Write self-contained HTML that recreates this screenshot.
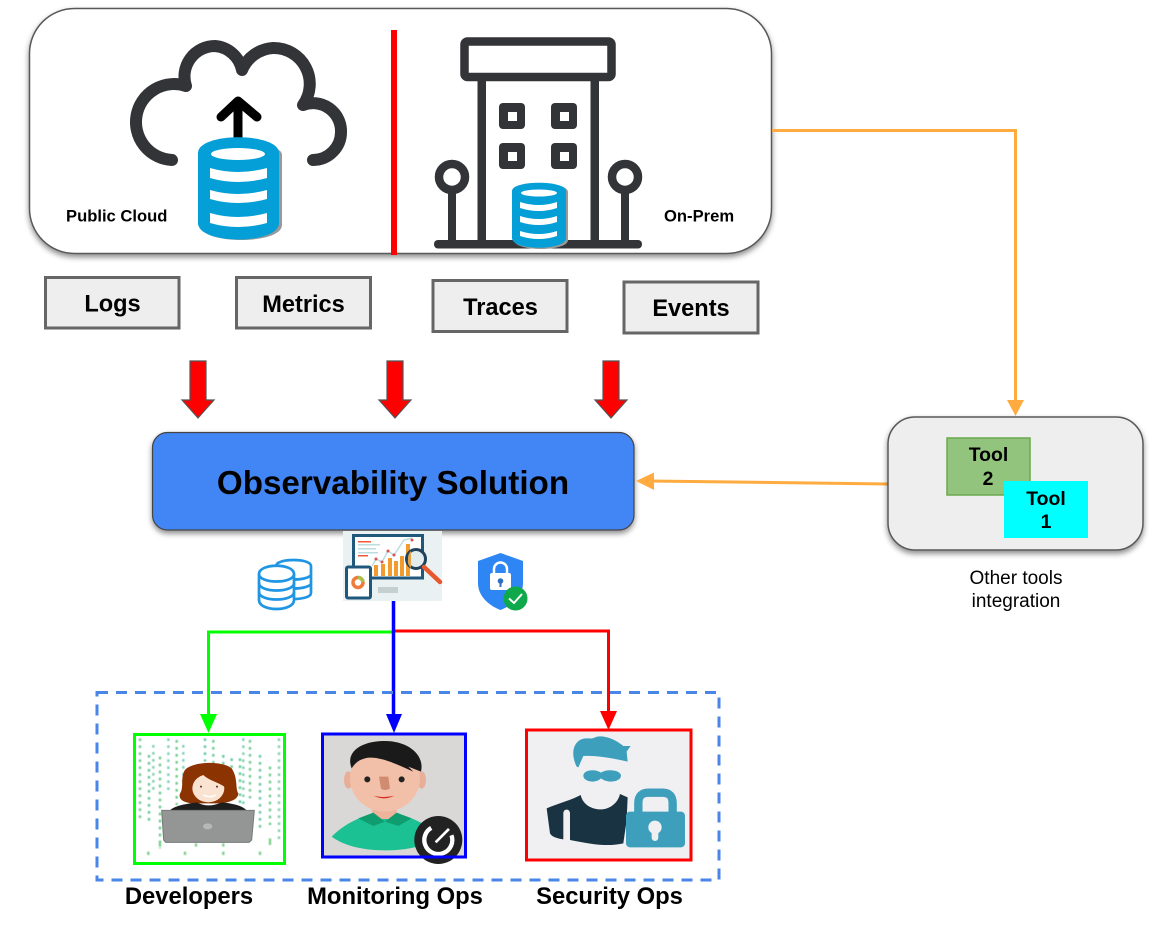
<!DOCTYPE html>
<html><head><meta charset="utf-8"><style>
html,body{margin:0;padding:0;background:#fff;overflow:hidden}
svg{display:block}
text{font-family:"Liberation Sans",sans-serif;fill:#000}
.b{font-weight:bold}
</style></head><body>
<svg width="1150" height="926" viewBox="0 0 1150 926" xmlns="http://www.w3.org/2000/svg">
<defs>
<filter id="s" x="-10%" y="-10%" width="120%" height="125%"><feDropShadow dx="0" dy="3" stdDeviation="3" flood-color="#000" flood-opacity=".45"/></filter>
<filter id="bl" x="-5%" y="-5%" width="110%" height="110%"><feGaussianBlur stdDeviation="1.200"/></filter>
<g id="redarrow"><path d="M-8,0H8V39H16L0,57L-16,39H-8Z" fill="#f00" stroke="#555" stroke-width="1.2"/></g>
</defs>

<!-- top box -->
<rect x="29.500" y="8.500" width="742" height="245" rx="45" fill="#fff" stroke="#595959" stroke-width="1.500" filter="url(#s)"/>
<rect x="391" y="30" width="6" height="225" fill="#f00"/>

<!-- cloud -->
<path d="M172,160A38,38 0 1 1 186,86A30.500,30.500 0 0 1 215,46A30,30 0 0 1 242,70A36,36 0 0 1 273,48A36,36 0 0 1 303,105A28,28 0 0 1 341,132A28,28 0 0 1 313,160" fill="none" stroke="#333438" stroke-width="12" stroke-linecap="round" stroke-linejoin="round"/>
<path d="M238,143V102M221,117L238,101L257,117" fill="none" stroke="#000" stroke-width="9" stroke-linecap="round" stroke-linejoin="round"/>
<!-- main database -->
<g>
<path d="M200,155C200,139 282,139 282,155V225C282,245 200,245 200,225Z" fill="#999"/>
<path d="M198,153C198,132 279,132 279,153V223C279,245 198,245 198,223Z" fill="#049fd6"/>
<ellipse cx="238" cy="154" rx="27" ry="6" fill="#fff"/>
<path d="M210,168Q238,176 267,168V178Q238,186 210,178Z" fill="#fff"/>
<path d="M210,190Q238,198 267,190V199Q238,207 210,199Z" fill="#fff"/>
<path d="M210,213Q238,221 267,213V223Q238,231 210,223Z" fill="#fff"/>
</g>

<!-- building -->
<g fill="#333438">
<rect x="464.500" y="41.500" width="147" height="35.500" rx="3" fill="#fff" stroke="#333438" stroke-width="8.500"/>
<rect x="477.500" y="80" width="8.500" height="162"/>
<rect x="590.500" y="80" width="8.500" height="162"/>
<rect x="499" y="103" width="26" height="26" rx="4"/><rect x="551" y="103" width="26" height="26" rx="4"/>
<rect x="499" y="143" width="26" height="26" rx="4"/><rect x="551" y="143" width="26" height="26" rx="4"/>
<rect x="434" y="240" width="208" height="8.500" rx="4"/>
<rect x="448" y="190" width="8" height="52"/><rect x="621" y="190" width="8" height="52"/>
</g>
<g fill="#fff"><rect x="508" y="112" width="9" height="9"/><rect x="560" y="112" width="9" height="9"/><rect x="508" y="152" width="9" height="9"/><rect x="560" y="152" width="9" height="9"/></g>
<circle cx="452" cy="177" r="13" fill="#fff" stroke="#333438" stroke-width="8.500"/>
<circle cx="625" cy="177" r="13" fill="#fff" stroke="#333438" stroke-width="8.500"/>
<!-- small database -->
<path d="M514,192C514,181 568,181 568,192V240C568,252 514,252 514,240Z" fill="#999"/>
<path d="M512,191C512,180 566,180 566,191V238C566,251 512,251 512,238Z" fill="#049fd6"/>
<ellipse cx="539" cy="193" rx="18" ry="3.500" fill="#fff"/>
<path d="M520,202Q539,208 557,202V208Q539,214 520,208Z" fill="#fff"/>
<path d="M520,216Q539,222 557,216V222Q539,228 520,222Z" fill="#fff"/>
<path d="M520,231Q539,237 557,231V236Q539,242 520,236Z" fill="#fff"/>

<text class="b" x="66" y="221.500" font-size="16.600">Public Cloud</text>
<text class="b" x="664" y="221.500" font-size="16.600">On-Prem</text>

<!-- signal boxes -->
<g fill="#eee" stroke="#666" stroke-width="3">
<rect x="45.500" y="277.500" width="133.500" height="50.500"/>
<rect x="236.500" y="277.500" width="134" height="50.500"/>
<rect x="433" y="280.500" width="134" height="51"/>
<rect x="624" y="282" width="134" height="51"/>
</g>
<g font-size="23.600" text-anchor="middle" style="font-weight:bold">
<text x="112.500" y="311.500">Logs</text>
<text x="303.500" y="312">Metrics</text>
<text x="500.500" y="315">Traces</text>
<text x="691" y="316">Events</text>
</g>

<use href="#redarrow" x="198" y="361"/>
<use href="#redarrow" x="395" y="361"/>
<use href="#redarrow" x="611" y="361"/>

<!-- Observability -->
<rect x="152.500" y="432.500" width="481.500" height="97.500" rx="15" fill="#4285f4" stroke="#444" stroke-width="1.200" filter="url(#s)"/>
<text class="b" x="393" y="494" font-size="33.200" text-anchor="middle">Observability Solution</text>

<!-- orange connectors -->
<path d="M772,130.500H1015.500V402" fill="none" stroke="#ffab40" stroke-width="3"/>
<path d="M1007,400H1024L1015.500,416Z" fill="#ffab40"/>
<path d="M888,484L650,481" fill="none" stroke="#ffab40" stroke-width="3"/>
<path d="M654,472.500L654,490L636,481Z" fill="#ffab40"/>

<!-- tools -->
<rect x="888" y="417" width="255" height="133" rx="27" fill="#eee" stroke="#595959" stroke-width="1.500" filter="url(#s)"/>
<rect x="947" y="438" width="83" height="57" fill="#93c47d" stroke="#6aa84f" stroke-width="1.500"/>
<rect x="1004" y="481" width="84" height="57" fill="#0ff"/>
<g font-size="19.400" text-anchor="middle" style="font-weight:bold">
<text x="988.500" y="461">Tool</text><text x="988" y="485">2</text>
<text x="1046" y="505">Tool</text><text x="1046" y="528">1</text>
</g>
<text x="1016" y="584" font-size="19" text-anchor="middle">Other tools</text>
<text x="1016" y="607" font-size="19" text-anchor="middle">integration</text>

<!-- db stack icon -->
<g fill="#fff" stroke="#1f96e4" stroke-width="2.700">
<path d="M276,566C276,558 311,558 311,566V593C311,601 276,601 276,593Z"/>
<path d="M276,575C280,581 307,581 311,575M276,584C280,590 307,590 311,584" fill="none"/>
<path d="M259,574C259,563 294,563 294,574V600C294,612 259,612 259,600Z"/>
<path d="M259,574C259,584 294,584 294,574M259,583C259,593 294,593 294,583M259,592C259,602 294,602 294,592" fill="none"/>
</g>

<!-- analytics image -->
<rect x="343" y="531" width="99" height="70" fill="#eaf1f3"/>
<rect x="353.500" y="535.500" width="69" height="42.500" fill="#fff" stroke="#20587c" stroke-width="3"/>
<rect x="378" y="587" width="20" height="6" fill="#c4d0d0"/>
<rect x="358" y="541" width="13" height="1.500" fill="#ef5a3c"/>
<g fill="#bcdde0"><rect x="358" y="544" width="22" height="1.500"/><rect x="358" y="548" width="18" height="1.500"/><rect x="358" y="552" width="20" height="1.500"/></g>
<rect x="358" y="555" width="10" height="1.500" fill="#ef5a3c"/>
<g fill="#f29b2e"><rect x="374" y="565" width="4" height="11"/><rect x="381" y="564" width="4" height="12"/><rect x="388" y="558" width="4" height="18"/><rect x="394" y="561" width="4" height="15"/><rect x="400" y="556" width="4" height="20"/><rect x="406" y="544" width="4" height="32"/></g>
<path d="M372,566L376,559L382,562L388,551L394,555L404,540L412,538" fill="none" stroke="#bcdde0" stroke-width="1.500"/>
<g fill="#d9534f"><circle cx="376" cy="559" r="1.500"/><circle cx="382" cy="562" r="1.500"/><circle cx="388" cy="551" r="1.500"/><circle cx="394" cy="555" r="1.500"/><circle cx="412" cy="540" r="1.500"/></g>
<circle cx="416" cy="559" r="9.500" fill="#e3eced" stroke="#20425c" stroke-width="3"/>
<path d="M411,551V568A9.500,9.500 0 0 1 408,559C408,555 409,553 411,551Z" fill="#e3a34a"/>
<path d="M424,567L440,582" stroke="#e8582c" stroke-width="4.500" stroke-linecap="round"/>
<rect x="346.500" y="567" width="24" height="31" rx="1.500" fill="#fff" stroke="#20587c" stroke-width="3"/>
<circle cx="358" cy="582.500" r="5" fill="none" stroke="#ee7b3a" stroke-width="3.500"/>
<path d="M358,577.500A5,5 0 0 1 363,582" fill="none" stroke="#a8c04a" stroke-width="3.500"/>

<!-- shield -->
<path d="M500.500,553L523,561V583C523,597 511,606 500.500,610C490,606 478,597 478,583V561Z" fill="#2e86f5"/>
<rect x="490" y="573" width="21" height="17" rx="2" fill="#fff"/>
<path d="M494,574V569A6.500,6.500 0 0 1 507,569V574" fill="none" stroke="#fff" stroke-width="2.500"/>
<circle cx="500.500" cy="581" r="2.800" fill="#2e6fc0"/><rect x="499.500" y="582" width="2" height="5" fill="#2e6fc0"/>
<circle cx="515.500" cy="598.500" r="12" fill="#0fa84a"/>
<path d="M509,598.500L514,603L522,594" fill="none" stroke="#fff" stroke-width="2"/>

<!-- distribution connectors -->
<path d="M393.500,632H208.500V716" fill="none" stroke="#0f0" stroke-width="3"/>
<path d="M393.500,631H608.500V714" fill="none" stroke="#f00" stroke-width="3"/>
<path d="M393.500,601V716" fill="none" stroke="#00f" stroke-width="3.500"/>
<path d="M200,714H217L208.500,733Z" fill="#0f0"/>
<path d="M386,714H402L394,733Z" fill="#00f"/>
<path d="M600,711H617L608.500,730Z" fill="#f00"/>

<!-- dashed group -->
<rect x="97" y="692.500" width="622" height="187.500" fill="none" stroke="#4a86e8" stroke-width="3" stroke-dasharray="11 8"/>

<!-- Developers -->
<rect x="134" y="734" width="150" height="129" fill="#fff"/>
<g transform="translate(125,725) scale(.3333)">
<g fill="none" stroke-width="7" stroke-dasharray="8 13" filter="url(#bl)">
<path d="M45,40V290M105,95V370M155,45V240M265,45V125M375,45V220M435,125V300" stroke="#6cc98a"/>
<path d="M85,60V205M130,40V200M175,60V200M355,40V240M462,40V350" stroke="#7ccfb0"/>
<path d="M72,90V300M240,40V110M295,90V130M320,100V135M405,90V320M345,100V240" stroke="#5fc69a"/>
<path d="M70,380V390M180,380V390M295,380V390M405,380V390M105,355V365M213,355V365M295,355V365M435,340V360" stroke="#7ccf8a" stroke-dasharray="none"/>
</g>
<path d="M180,135C200,110 290,105 320,130C340,160 330,190 340,205C340,225 310,232 290,235H200C170,232 160,220 165,205C178,190 165,155 180,135Z" fill="#8b3402"/>
<ellipse cx="250" cy="190" rx="48" ry="42" fill="#fbe3d2"/>
<path d="M200,180C212,158 225,150 235,150C250,165 275,170 298,185L295,135L210,135Z" fill="#8b3402"/>
<circle cx="228" cy="185" r="3" fill="#5a3020"/><circle cx="276" cy="185" r="3" fill="#5a3020"/>
<path d="M235,210Q255,220 272,210" fill="none" stroke="#fff" stroke-width="4"/>
<path d="M135,256C150,240 195,235 215,232Q250,250 290,232C320,235 350,240 365,256Z" fill="#1d1d1d"/>
<path d="M110,256H388L380,345L372,352H122L116,345Z" fill="#939695" stroke="#767a79" stroke-width="3"/>
<ellipse cx="248" cy="304" rx="14" ry="9" fill="#b5b8b8"/>
</g>
<rect x="134.500" y="734.500" width="150" height="129" fill="none" stroke="#0f0" stroke-width="3"/>

<!-- Monitoring -->
<rect x="323" y="734" width="142" height="122" fill="#d9d8d6"/>
<g transform="translate(125,725) scale(.3333)">
<ellipse cx="670" cy="165" rx="13" ry="26" fill="#e8ae98"/><ellipse cx="890" cy="165" rx="13" ry="26" fill="#e8ae98"/>
<path d="M620,335C650,305 690,280 745,265Q780,290 815,265C870,280 920,305 945,335C900,365 840,377 780,376C720,376 660,365 620,335Z" fill="#1cc193"/>
<rect x="742" y="230" width="73" height="52" rx="14" fill="#eeb39b"/>
<path d="M700,280L745,263L780,290L745,303ZM860,280L815,263L780,290L820,303Z" fill="#0f9d6f"/>
<ellipse cx="780" cy="160" rx="105" ry="100" fill="#f2bfa8"/>
<path d="M680,130C660,80 710,48 780,48C850,48 900,90 888,140L850,125L865,140C820,120 760,90 720,100C700,105 690,115 680,130Z" fill="#1a1a1a"/>
<circle cx="727" cy="163" r="9" fill="#222"/><circle cx="830" cy="163" r="9" fill="#222"/>
<path d="M762,155H790L795,190Q778,200 768,190Z" fill="#d08c70"/>
<path d="M745,212Q778,220 808,212Q778,228 745,212Z" fill="#d62a1f"/>
<circle cx="940" cy="345" r="72" fill="#222"/>
<circle cx="940" cy="345" r="42" fill="none" stroke="#fff" stroke-width="13" stroke-dasharray="190 74" transform="rotate(-20 940 345)"/>
<path d="M932,352L972,312" stroke="#fff" stroke-width="8"/>
</g>
<rect x="322.500" y="734" width="143" height="123" fill="none" stroke="#00f" stroke-width="3"/>

<!-- Security -->
<rect x="527" y="731" width="164" height="129" fill="#f0f0f3"/>
<g transform="translate(515,720) scale(.3333)">
<path d="M185,140C170,110 170,75 195,60C215,50 225,60 240,52C265,42 305,60 325,78L347,78L335,95L338,125C300,115 240,105 205,108L190,142Z" fill="#3d9fbc"/>
<path d="M205,167C205,150 240,145 258,158C275,145 318,150 318,167C318,185 280,192 258,175C240,192 205,185 205,167Z" fill="#3d9fbc"/>
<path d="M95,265C130,250 170,240 197,225C205,260 240,270 262,268C290,265 310,245 315,222L338,232L335,300L325,370C280,380 240,375 165,360V280C165,265 145,265 145,280V358C125,355 110,350 105,340Z" fill="#1a3342"/>
<path d="M370,280V250Q370,218 400,218H443Q473,218 473,250V280" fill="none" stroke="#3d9fbc" stroke-width="25"/>
<rect x="333" y="275" width="177" height="107" rx="12" fill="#3d9fbc"/>
<circle cx="420" cy="322" r="20" fill="#f0f0f3"/><rect x="410" y="325" width="20" height="38" rx="10" fill="#f0f0f3"/>
</g>
<rect x="526.500" y="730" width="164.500" height="130" fill="none" stroke="#f00" stroke-width="3"/>

<g font-size="23.800" text-anchor="middle" style="font-weight:bold">
<text x="189" y="904">Developers</text>
<text x="395" y="904">Monitoring Ops</text>
<text x="609.500" y="904">Security Ops</text>
</g>
</svg>
</body></html>
